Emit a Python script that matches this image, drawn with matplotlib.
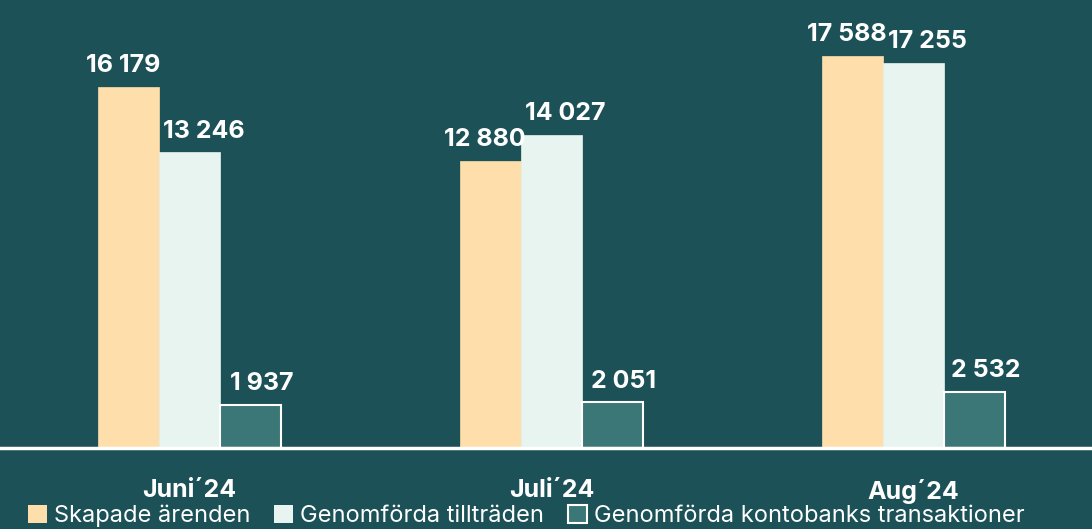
import numpy as np
import matplotlib.pyplot as plt
from matplotlib.patches import Patch

months = ['Juni´24', 'Juli´24', 'Aug´24']
skapade = [16179, 12880, 17588]
tilltraden = [13246, 14027, 17255]
kontobank = [1937, 2051, 2532]
series_names = ['Skapade ärenden', 'Genomförda tillträden', 'Genomförda kontobanks transaktioner']

bg = '#1b5157'
colors = ['#fedfac', '#e7f4ef', '#3b7777']
edges = ['#fedfac', '#e7f4ef', 'white']
label_dx = [-4, 10, 8]  # labels sit a bit off-centre in the original

plt.rcParams['font.family'] = ['Inter', 'DejaVu Sans']


def fmt(v):
    return f'{v:,}'.replace(',', ' ')


fig = plt.figure(figsize=(10.92, 5.29), dpi=100, facecolor=bg)
ax = fig.add_axes([0, 81 / 529, 1, 448 / 529])
ax.set_facecolor(bg)

x = np.arange(len(months))
w = 61 / 362
for i, vals in enumerate([skapade, tilltraden, kontobank]):
    pos = x + (i - 1) * w
    ax.bar(pos, vals, width=w, color=colors[i], edgecolor=edges[i],
           linewidth=1.5 if i == 2 else 0.5)
    for xp, v in zip(pos, vals):
        ax.annotate(fmt(v), (xp, v), xytext=(label_dx[i], 7), textcoords='offset points',
                    ha='center', va='bottom', color='white', fontsize=18,
                    fontweight='bold')

ax.set_xlim(-189.5 / 362, 2 + (1092 - 913.5) / 362)
ax.set_ylim(0, 448 / 0.02231)
ax.axhline(0, color='white', linewidth=2.5, clip_on=False)
for s in ax.spines.values():
    s.set_visible(False)
ax.set_yticks([])
ax.set_xticks(x)
ax.set_xticklabels(months, color='white', fontsize=18, fontweight='bold')
ax.tick_params(axis='x', length=0, pad=22)

handles = [Patch(facecolor=colors[i], edgecolor=edges[i], linewidth=1.5 if i == 2 else 0)
           for i in range(3)]
fig.legend(handles, series_names, loc='center left', bbox_to_anchor=(0.026, 1 - 516 / 529),
           ncol=3, frameon=False, fontsize=17, labelcolor='white',
           borderpad=0, borderaxespad=0,
           handlelength=0.8, handleheight=0.8, handletextpad=0.3, columnspacing=1.0)

fig.savefig('out.png', dpi=100, facecolor=bg)
